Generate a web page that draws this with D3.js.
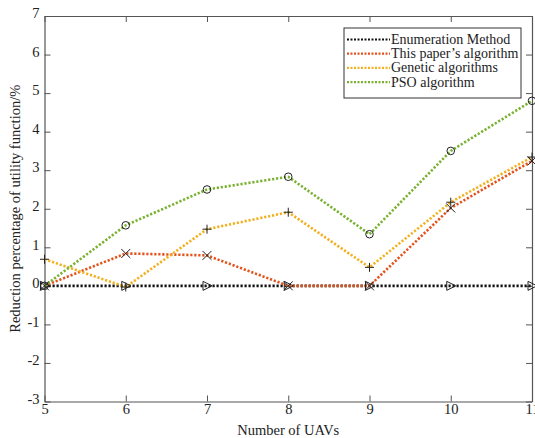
<!DOCTYPE html>
<html>
<head>
<meta charset="utf-8">
<script src="https://cdn.jsdelivr.net/npm/d3@7"></script>
<style>
  body { margin: 0; background: #fff; }
  svg text { font-family: "Liberation Serif", "DejaVu Serif", serif; fill: #222; }
</style>
</head>
<body>
<figure id="chart" style="margin:0"></figure>
<script>
// data
const uavs = [5, 6, 7, 8, 9, 10, 11];
const enumeration = [0, 0, 0, 0, 0, 0, 0];
const thisPaper = [0, 0.84, 0.79, 0, 0, 2.02, 3.24];
const genetic = [0.69, -0.03, 1.47, 1.91, 0.48, 2.17, 3.34];
const pso = [0, 1.57, 2.5, 2.83, 1.34, 3.5, 4.8];
const yTicks = [-3, -2, -1, 0, 1, 2, 3, 4, 5, 6, 7];

const series = [
  { name: 'Enumeration Method', values: enumeration, color: '#111111', marker: 'tri' },
  { name: 'This paper\u2019s algorithm', values: thisPaper, color: '#e4521b', marker: 'x' },
  { name: 'Genetic algorithms', values: genetic, color: '#f2b01e', marker: 'plus' },
  { name: 'PSO algorithm', values: pso, color: '#79b130', marker: 'circle' }
];

const W = 535, H = 438;
const margin = { left: 44.5, top: 16, right: 3, bottom: 36.5 };
const width = W - margin.left - margin.right;
const height = H - margin.top - margin.bottom;
const axisColor = '#555';

const svg = d3.select('#chart').append('svg')
  .attr('width', W).attr('height', H);
const g = svg.append('g')
  .attr('transform', 'translate(' + margin.left + ',' + margin.top + ')');

const x = d3.scaleLinear().domain([5, 11]).range([0, width]);
const y = d3.scaleLinear().domain([-3, 7]).range([height, 0]);

// axes box with inward ticks
const styleAxis = sel => {
  sel.selectAll('path').attr('stroke', axisColor).attr('stroke-width', 1.2);
  sel.selectAll('line').attr('stroke', axisColor).attr('stroke-width', 1);
  sel.selectAll('text').style('font-size', '14.5px').style('font-family', '"Liberation Serif", serif').attr('fill', '#222');
};

g.append('g')
  .attr('transform', 'translate(0,' + height + ')')
  .call(d3.axisBottom(x).tickValues(uavs).tickSizeInner(-6).tickSizeOuter(0).tickPadding(2).tickFormat(d => String(d)))
  .call(styleAxis);
g.append('g')
  .call(d3.axisTop(x).tickValues(uavs).tickSizeInner(-6).tickSizeOuter(0).tickFormat(''))
  .call(styleAxis);
g.append('g')
  .call(d3.axisLeft(y).tickValues(yTicks).tickSizeInner(-6).tickSizeOuter(0).tickPadding(5).tickFormat(d => String(d)))
  .call(styleAxis)
  .selectAll('text').attr('dy', '0.12em');
g.append('g')
  .attr('transform', 'translate(' + width + ',0)')
  .call(d3.axisRight(y).tickValues(yTicks).tickSizeInner(-6).tickSizeOuter(0).tickFormat(''))
  .call(styleAxis);

// lines
const line = d3.line().x((d, i) => x(uavs[i])).y(d => y(d));
series.forEach(s => {
  g.append('path')
    .datum(s.values)
    .attr('fill', 'none')
    .attr('stroke', s.color)
    .attr('stroke-width', 2.6)
    .attr('stroke-dasharray', '2.2,1.8')
    .attr('d', line);
});

// markers
const drawMarker = (sel, type, cx, cy) => {
  const r = 4.5;
  if (type === 'circle') {
    sel.append('circle').attr('cx', cx).attr('cy', cy).attr('r', 3.8)
      .attr('fill', 'none').attr('stroke', '#222').attr('stroke-width', 1);
  } else if (type === 'x') {
    sel.append('path').attr('d', `M${cx - r},${cy - r}L${cx + r},${cy + r}M${cx - r},${cy + r}L${cx + r},${cy - r}`)
      .attr('stroke', '#222').attr('stroke-width', 1).attr('fill', 'none');
  } else if (type === 'plus') {
    sel.append('path').attr('d', `M${cx - r},${cy}L${cx + r},${cy}M${cx},${cy - r}L${cx},${cy + r}`)
      .attr('stroke', '#222').attr('stroke-width', 1).attr('fill', 'none');
  } else if (type === 'tri') {
    sel.append('path').attr('d', `M${cx - 4},${cy - 4.5}L${cx + 5},${cy}L${cx - 4},${cy + 4.5}Z`)
      .attr('stroke', '#222').attr('stroke-width', 1).attr('fill', 'none');
  }
};
series.forEach(s => {
  const mg = g.append('g');
  s.values.forEach((v, i) => drawMarker(mg, s.marker, x(uavs[i]), y(v)));
});

// axis titles
svg.append('text')
  .attr('x', margin.left + width / 2)
  .attr('y', 435)
  .attr('text-anchor', 'middle')
  .style('font-size', '14.5px')
  .text('Number of UAVs');
svg.append('text')
  .attr('transform', 'translate(20,' + (margin.top + height / 2) + ') rotate(-90)')
  .attr('text-anchor', 'middle')
  .style('font-size', '14.5px')
  .text('Reduction percentage of utility function/%');

// legend
const lg = svg.append('g').attr('transform', 'translate(344,28)');
lg.append('rect').attr('width', 177).attr('height', 70)
  .attr('fill', '#fff').attr('stroke', '#333').attr('stroke-width', 1);
series.forEach((s, i) => {
  const ly = 11.5 + i * 14.2;
  lg.append('line').attr('x1', 3).attr('x2', 46).attr('y1', ly).attr('y2', ly)
    .attr('stroke', s.color).attr('stroke-width', 2.2).attr('stroke-dasharray', '2,1.5');
  lg.append('text').attr('x', 47).attr('y', ly + 4.5)
    .style('font-size', '14px').text(s.name);
});
</script>
</body>
</html>
